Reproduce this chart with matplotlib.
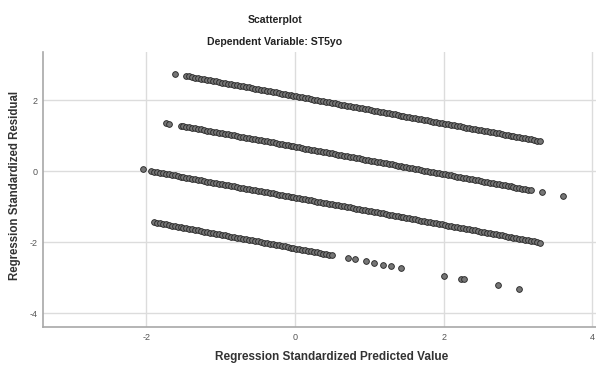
import matplotlib
matplotlib.use("Agg")
import matplotlib.pyplot as plt

plt.rcParams['font.family'] = ['Liberation Sans', 'DejaVu Sans']
plt.rcParams['axes.unicode_minus'] = False

# Standardized predicted values and standardized residuals, one group per outcome level
pred_a = [-1.62, -1.46, -1.42, -1.38, -1.34, -1.30, -1.26, -1.22, -1.18, -1.14, -1.10, -1.06, -1.02, -0.98, -0.94,
          -0.90, -0.86, -0.82, -0.78, -0.74, -0.70, -0.66, -0.62, -0.58, -0.54, -0.50, -0.46, -0.42, -0.38,
          -0.34, -0.30, -0.26, -0.22, -0.18, -0.14, -0.10, -0.06, -0.02, 0.02, 0.06, 0.10, 0.14, 0.18, 0.22,
          0.26, 0.30, 0.34, 0.38, 0.42, 0.46, 0.50, 0.54, 0.58, 0.62, 0.66, 0.70, 0.74, 0.78, 0.82, 0.86,
          0.90, 0.94, 0.98, 1.02, 1.06, 1.10, 1.14, 1.18, 1.22, 1.26, 1.30, 1.34, 1.38, 1.42, 1.46, 1.50,
          1.54, 1.58, 1.62, 1.66, 1.70, 1.74, 1.78, 1.82, 1.86, 1.90, 1.94, 1.98, 2.02, 2.06, 2.10, 2.14,
          2.18, 2.22, 2.26, 2.30, 2.34, 2.38, 2.42, 2.46, 2.50, 2.54, 2.58, 2.62, 2.66, 2.70, 2.74, 2.78,
          2.82, 2.86, 2.90, 2.94, 2.98, 3.02, 3.06, 3.10, 3.14, 3.18, 3.22, 3.26, 3.30]
resid_a = [2.74, 2.68, 2.67, 2.65, 2.64, 2.62, 2.61, 2.59, 2.57, 2.56, 2.54, 2.53, 2.51, 2.50, 2.48,
           2.47, 2.45, 2.44, 2.42, 2.40, 2.39, 2.37, 2.36, 2.34, 2.33, 2.31, 2.30, 2.28, 2.27,
           2.25, 2.24, 2.22, 2.20, 2.19, 2.17, 2.16, 2.14, 2.13, 2.11, 2.10, 2.08, 2.07, 2.05, 2.04,
           2.02, 2.00, 1.99, 1.97, 1.96, 1.94, 1.93, 1.91, 1.90, 1.88, 1.87, 1.85, 1.84, 1.82, 1.80, 1.79,
           1.77, 1.76, 1.74, 1.73, 1.71, 1.70, 1.68, 1.67, 1.65, 1.63, 1.62, 1.60, 1.59, 1.57, 1.56, 1.54,
           1.53, 1.51, 1.50, 1.48, 1.47, 1.45, 1.43, 1.42, 1.40, 1.39, 1.37, 1.36, 1.34, 1.33, 1.31, 1.30,
           1.28, 1.27, 1.25, 1.23, 1.22, 1.20, 1.19, 1.17, 1.16, 1.14, 1.13, 1.11, 1.10, 1.08, 1.07, 1.05,
           1.03, 1.02, 1.00, 0.99, 0.97, 0.96, 0.94, 0.93, 0.91, 0.90, 0.88, 0.86, 0.85]

pred_b = [-1.73, -1.70, -1.54, -1.50, -1.46, -1.42, -1.38, -1.34, -1.30, -1.26, -1.22, -1.18, -1.14, -1.10,
          -1.06, -1.02, -0.98, -0.94, -0.90, -0.86, -0.82, -0.78, -0.74, -0.70, -0.66, -0.62, -0.58, -0.54,
          -0.50, -0.46, -0.42, -0.38, -0.34, -0.30, -0.26, -0.22, -0.18, -0.14, -0.10, -0.06, -0.02, 0.02,
          0.06, 0.10, 0.14, 0.18, 0.22, 0.26, 0.30, 0.34, 0.38, 0.42, 0.46, 0.50, 0.54, 0.58, 0.62, 0.66,
          0.70, 0.74, 0.78, 0.82, 0.86, 0.90, 0.94, 0.98, 1.02, 1.06, 1.10, 1.14, 1.18, 1.22, 1.26, 1.30,
          1.34, 1.38, 1.42, 1.46, 1.50, 1.54, 1.58, 1.62, 1.66, 1.70, 1.74, 1.78, 1.82, 1.86, 1.90, 1.94,
          1.98, 2.02, 2.06, 2.10, 2.14, 2.18, 2.22, 2.26, 2.30, 2.34, 2.38, 2.42, 2.46, 2.50, 2.54, 2.58,
          2.62, 2.66, 2.70, 2.74, 2.78, 2.82, 2.86, 2.90, 2.94, 2.98, 3.02, 3.06, 3.10, 3.14, 3.18, 3.33, 3.60]
resid_b = [1.36, 1.34, 1.28, 1.27, 1.25, 1.24, 1.22, 1.21, 1.19, 1.18, 1.16, 1.14, 1.13, 1.11,
           1.10, 1.08, 1.07, 1.05, 1.04, 1.02, 1.01, 0.99, 0.97, 0.96, 0.94, 0.93, 0.91, 0.90,
           0.88, 0.87, 0.85, 0.84, 0.82, 0.81, 0.79, 0.77, 0.76, 0.74, 0.73, 0.71, 0.70, 0.68,
           0.67, 0.65, 0.64, 0.62, 0.61, 0.59, 0.57, 0.56, 0.54, 0.53, 0.51, 0.50, 0.48, 0.47, 0.45, 0.44,
           0.42, 0.41, 0.39, 0.37, 0.36, 0.34, 0.33, 0.31, 0.30, 0.28, 0.27, 0.25, 0.24, 0.22, 0.20, 0.19,
           0.17, 0.16, 0.14, 0.13, 0.11, 0.10, 0.08, 0.07, 0.05, 0.04, 0.02, 0.00, -0.01, -0.03, -0.04, -0.06,
           -0.07, -0.09, -0.10, -0.12, -0.13, -0.15, -0.16, -0.18, -0.20, -0.21, -0.23, -0.24, -0.26, -0.27, -0.29, -0.30,
           -0.32, -0.33, -0.35, -0.36, -0.38, -0.40, -0.41, -0.43, -0.44, -0.46, -0.47, -0.49, -0.50, -0.52, -0.53, -0.59, -0.70]

pred_c = [-2.04, -1.94, -1.90, -1.86, -1.82, -1.78, -1.74, -1.70, -1.66, -1.62, -1.58, -1.54, -1.50, -1.46, -1.42,
          -1.38, -1.34, -1.30, -1.26, -1.22, -1.18, -1.14, -1.10, -1.06, -1.02, -0.98, -0.94, -0.90, -0.86,
          -0.82, -0.78, -0.74, -0.70, -0.66, -0.62, -0.58, -0.54, -0.50, -0.46, -0.42, -0.38, -0.34, -0.30,
          -0.26, -0.22, -0.18, -0.14, -0.10, -0.06, -0.02, 0.02, 0.06, 0.10, 0.14, 0.18, 0.22, 0.26, 0.30,
          0.34, 0.38, 0.42, 0.46, 0.50, 0.54, 0.58, 0.62, 0.66, 0.70, 0.74, 0.78, 0.82, 0.86, 0.90, 0.94,
          0.98, 1.02, 1.06, 1.10, 1.14, 1.18, 1.22, 1.26, 1.30, 1.34, 1.38, 1.42, 1.46, 1.50, 1.54, 1.58,
          1.62, 1.66, 1.70, 1.74, 1.78, 1.82, 1.86, 1.90, 1.94, 1.98, 2.02, 2.06, 2.10, 2.14, 2.18, 2.22,
          2.26, 2.30, 2.34, 2.38, 2.42, 2.46, 2.50, 2.54, 2.58, 2.62, 2.66, 2.70, 2.74, 2.78, 2.82, 2.86,
          2.90, 2.94, 2.98, 3.02, 3.06, 3.10, 3.14, 3.18, 3.22, 3.26, 3.29]
resid_c = [0.05, 0.01, -0.01, -0.02, -0.04, -0.05, -0.07, -0.09, -0.10, -0.12, -0.13, -0.15, -0.16, -0.18, -0.19,
           -0.21, -0.22, -0.24, -0.25, -0.27, -0.29, -0.30, -0.32, -0.33, -0.35, -0.36, -0.38, -0.39, -0.41,
           -0.42, -0.44, -0.46, -0.47, -0.49, -0.50, -0.52, -0.53, -0.55, -0.56, -0.58, -0.59, -0.61, -0.62,
           -0.64, -0.66, -0.67, -0.69, -0.70, -0.72, -0.73, -0.75, -0.76, -0.78, -0.79, -0.81, -0.82, -0.84, -0.86,
           -0.87, -0.89, -0.90, -0.92, -0.93, -0.95, -0.96, -0.98, -0.99, -1.01, -1.02, -1.04, -1.06, -1.07, -1.09, -1.10,
           -1.12, -1.13, -1.15, -1.16, -1.18, -1.19, -1.21, -1.23, -1.24, -1.26, -1.27, -1.29, -1.30, -1.32, -1.33, -1.35,
           -1.36, -1.38, -1.39, -1.41, -1.43, -1.44, -1.46, -1.47, -1.49, -1.50, -1.52, -1.53, -1.55, -1.56, -1.58, -1.59,
           -1.61, -1.63, -1.64, -1.66, -1.67, -1.69, -1.70, -1.72, -1.73, -1.75, -1.76, -1.78, -1.79, -1.81, -1.83, -1.84,
           -1.86, -1.87, -1.89, -1.90, -1.92, -1.93, -1.95, -1.96, -1.98, -2.00, -2.01]

pred_d = [-1.90, -1.86, -1.82, -1.78, -1.74, -1.70, -1.66, -1.62, -1.58, -1.54, -1.50, -1.46, -1.42,
          -1.38, -1.34, -1.30, -1.26, -1.22, -1.18, -1.14, -1.10, -1.06, -1.02, -0.98, -0.94, -0.90, -0.86,
          -0.82, -0.78, -0.74, -0.70, -0.66, -0.62, -0.58, -0.54, -0.50, -0.46, -0.42, -0.38, -0.34, -0.30,
          -0.26, -0.22, -0.18, -0.14, -0.10, -0.06, -0.02, 0.02, 0.06, 0.10, 0.14, 0.18, 0.22, 0.26, 0.30,
          0.34, 0.38, 0.42, 0.46, 0.50,
          0.72, 0.81, 0.96, 1.06, 1.19, 1.29, 1.42, 2.00, 2.24, 2.27, 2.73, 3.02]
resid_d = [-1.44, -1.45, -1.47, -1.48, -1.50, -1.52, -1.53, -1.55, -1.56, -1.58, -1.59, -1.61, -1.62,
           -1.64, -1.65, -1.67, -1.68, -1.70, -1.72, -1.73, -1.75, -1.76, -1.78, -1.79, -1.81, -1.82, -1.84,
           -1.85, -1.87, -1.89, -1.90, -1.92, -1.93, -1.95, -1.96, -1.98, -1.99, -2.01, -2.02, -2.04, -2.05,
           -2.07, -2.09, -2.10, -2.12, -2.13, -2.15, -2.16, -2.18, -2.19, -2.21, -2.22, -2.24, -2.25, -2.27, -2.29,
           -2.30, -2.32, -2.33, -2.35, -2.36,
           -2.45, -2.48, -2.54, -2.58, -2.63, -2.67, -2.72, -2.94, -3.03, -3.04, -3.22, -3.33]

x_ticks = [-2, 0, 2, 4]
y_ticks = [-4, -2, 0, 2]

title_main = "Scatterplot"
title_sub = "Dependent Variable: ST5yo"
x_label = "Regression Standardized Predicted Value"
y_label = "Regression Standardized Residual"

W, H = 596, 365
fig = plt.figure(figsize=(W / 100, H / 100), dpi=100)
ax = fig.add_axes([43 / W, 1 - 327 / H, 1 - 43 / W, (327 - 52) / H])

for px, ry in [(pred_a, resid_a), (pred_b, resid_b), (pred_c, resid_c), (pred_d, resid_d)]:
    ax.scatter(px, ry, s=17, facecolor='#767676', edgecolor='#2a2a2a',
               linewidths=0.65, zorder=3)

ax.set_xlim(-3.39, 4.05)
ax.set_ylim(-4.39, 3.36)
ax.set_xticks(x_ticks)
ax.set_yticks(y_ticks)
ax.grid(True, color='#dcdcdc', linewidth=1.0, zorder=0)
ax.set_axisbelow(True)

for side in ('top', 'right'):
    ax.spines[side].set_visible(False)
for side in ('left', 'bottom'):
    ax.spines[side].set_color('#a8a8a8')
    ax.spines[side].set_linewidth(1.2)

ax.tick_params(length=0, labelsize=6.5, labelcolor='#555555', pad=4)

fig.text(275 / W, 1 - 20 / H, title_main, ha='center', va='center',
         fontsize=7.6, fontweight='bold', color='#222222')
fig.text(275 / W, 1 - 42 / H, title_sub, ha='center', va='center',
         fontsize=7.6, fontweight='bold', color='#222222')
fig.text(332 / W, 1 - 357 / H, x_label, ha='center', va='center',
         fontsize=8.5, fontweight='bold', color='#333333')
fig.text(15 / W, 1 - 185 / H, y_label, ha='center', va='center', rotation=90,
         fontsize=8.3, fontweight='bold', color='#333333')

fig.savefig('out.png', dpi=100, facecolor='white')
